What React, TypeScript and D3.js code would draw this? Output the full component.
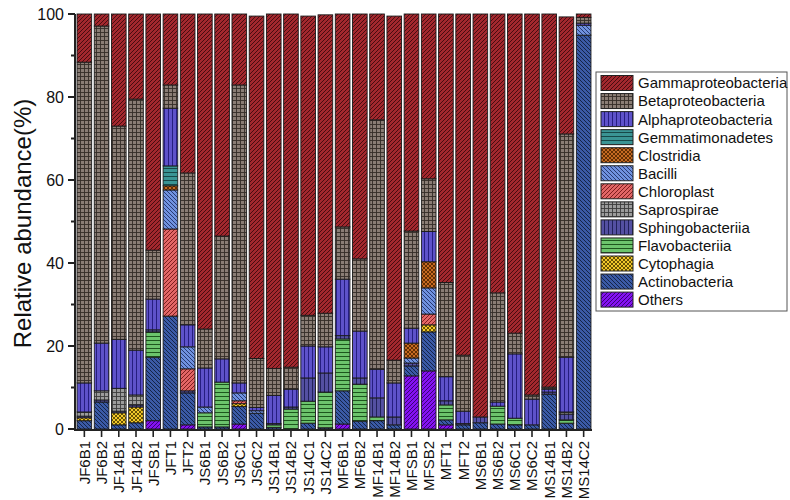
import React from "react";
import * as d3 from "d3";

const samples = ["JF6B1","JF6B2","JF14B1","JF14B2","JFSB1","JFT1","JFT2","JS6B1","JS6B2","JS6C1","JS6C2","JS14B1","JS14B2","JS14C1","JS14C2","MF6B1","MF6B2","MF14B1","MF14B2","MFSB1","MFSB2","MFT1","MFT2","MS6B1","MS6B2","MS6C1","MS6C2","MS14B1","MS14B2","MS14C2"];

const others      = [0,0,0,0,2,0,1,0,0,1.2,0,0,0,0,0,1.2,0,0,0,12.8,14,1,0,0,0,0,0,0,0,0];
const actino      = [2,6.5,1,1.5,15.3,27.2,7.7,0.5,0.5,4.2,3.8,0.4,0,1.4,0.3,8,1.9,2,1,2.4,9.4,1.2,1,1.5,1.2,1,1,8.4,1.4,94.9];
const cytophagia  = [0.7,0,2.9,3.8,0,0,0,0,0,0.7,0,0,0,0,0,0,0,0,0,0,1.7,0,0,0,0,0,0,0,0,0];
const flavo       = [0,0,0,0,6.1,0,0,3.4,10.8,0,0,0.6,4.8,5.3,8.6,12.5,8.9,0.9,0,0,0,3.6,0,0,4.3,1.6,0,0,0.8,0];
const sphingo     = [0.4,0.5,0.4,0.5,0.5,0,0.5,0,0,0,0,0.3,0.5,5.6,4.6,0.8,1.5,4.6,1.9,0.7,0,1,0.3,1.4,0,0,0,0.5,1.4,0];
const saprospirae = [1,2.2,5.5,2.4,0,0,0,0,0,0,0,0,0,0,0,0,0,0,0,0,0,0,0,0,0,0,0,0,0.5,0];
const chloroplast = [0,0,0,0,0,21,5.3,0,0,0.7,0,0,0,0,0,0,0,0,0,0,2.6,0,0,0,0,0,0,0,0,0];
const bacilli     = [0,0,0,0,0,9.4,5.3,1.4,0,1.9,0.6,0,0,0,0,0,0,0,0,1.2,6.3,0,0,0,0,0,0,0,0,2.4];
const clostridia  = [0,0,0,0,0,1,0,0,0,0,0,0,0,0,0,0,0,0,0,3.6,6.3,0,0,0,0,0,0,0,0,0];
const gemma       = [0,0,0,0,0,4.8,0,0,0,0,0,0,0,0,0,0,0,0,0,0,0,0,0,0,0,0,0,0,0,0];
const alpha       = [7,11.5,11.8,10.8,7.4,13.9,5.3,9.4,5.6,2.4,0.8,6.8,4.3,7.7,6.3,13.6,11.3,6.9,8.2,3.6,7.3,5.8,3,0,1,15.5,6.2,0.7,13.2,0.5];
const beta        = [77.3,76.4,51.4,60.5,11.8,5.6,36.6,9.4,29.6,71.8,11.8,6.5,5.3,7.4,8.1,12.6,17.4,60.1,5.5,23.4,12.7,22.7,13.5,0,26.3,5,1,0.5,53.8,1.4];
const gamma       = [11.6,2.9,27,20.5,56.9,17.1,38.3,75.9,53.5,17.1,82.5,85.4,85.1,72.1,71.9,51.3,59,25.5,82.9,52.3,39.7,64.7,82.2,97.1,67.2,76.9,91.8,89.9,28.2,0.8];

const yTicks = [0, 20, 40, 60, 80, 100];

// bottom -> top stacking order
const taxa = [
  { key: "Others", values: others, fill: "#8412f2", ink: "#3c0078", pat: "fwd" },
  { key: "Actinobacteria", values: actino, fill: "#3b5aa6", ink: "#142448", pat: "back" },
  { key: "Cytophagia", values: cytophagia, fill: "#f2c92a", ink: "#5a4600", pat: "cross" },
  { key: "Flavobacteriia", values: flavo, fill: "#6cc46c", ink: "#1d561d", pat: "horiz" },
  { key: "Sphingobacteriia", values: sphingo, fill: "#5450a2", ink: "#22225a", pat: "vert" },
  { key: "Saprospirae", values: saprospirae, fill: "#9c9c9c", ink: "#3c3c3c", pat: "grid" },
  { key: "Chloroplast", values: chloroplast, fill: "#e26666", ink: "#7e1e1e", pat: "fwd" },
  { key: "Bacilli", values: bacilli, fill: "#7092e0", ink: "#283a72", pat: "back" },
  { key: "Clostridia", values: clostridia, fill: "#c66a22", ink: "#582800", pat: "cross" },
  { key: "Gemmatimonadetes", values: gemma, fill: "#3a9494", ink: "#174848", pat: "horiz" },
  { key: "Alphaproteobacteria", values: alpha, fill: "#5e52ca", ink: "#261e80", pat: "vert" },
  { key: "Betaproteobacteria", values: beta, fill: "#8a7d75", ink: "#342c27", pat: "grid" },
  { key: "Gammaproteobacteria", values: gamma, fill: "#a3282e", ink: "#480c10", pat: "fwd" },
];

const W = 790, H = 500;
const m = { left: 76, right: 592, top: 14, bottom: 429 };

function Pattern({ id, fill, ink, pat }: { id: string; fill: string; ink: string; pat: string }) {
  const s = 4;
  let content: React.ReactNode = null;
  if (pat === "fwd") {
    content = <path d={`M0,${s} L${s},0 M-1,1 L1,-1 M${s - 1},${s + 1} L${s + 1},${s - 1}`} stroke={ink} strokeWidth={1} />;
  } else if (pat === "back") {
    content = <path d={`M0,0 L${s},${s} M-1,${s - 1} L1,${s + 1} M${s - 1},-1 L${s + 1},1`} stroke={ink} strokeWidth={1} />;
  } else if (pat === "vert") {
    content = <path d={`M0.5,0 L0.5,${s}`} stroke={ink} strokeWidth={1} />;
  } else if (pat === "horiz") {
    content = <path d={`M0,0.5 L${s},0.5`} stroke={ink} strokeWidth={1} />;
  } else if (pat === "grid") {
    content = <path d={`M0.5,0 L0.5,${s} M0,0.5 L${s},0.5`} stroke={ink} strokeWidth={0.9} />;
  } else if (pat === "cross") {
    content = <path d={`M0,0 L${s},${s} M0,${s} L${s},0`} stroke={ink} strokeWidth={0.9} />;
  }
  return (
    <pattern id={id} patternUnits="userSpaceOnUse" width={s} height={s}>
      <rect width={s} height={s} fill={fill} />
      {content}
    </pattern>
  );
}

export default function App() {
  const x = d3.scaleBand<string>().domain(samples).range([m.left, m.right]).paddingInner(0.15).paddingOuter(0.06);
  const y = d3.scaleLinear().domain([0, 100]).range([m.bottom, m.top]);

  const rows = samples.map((s, i) => {
    const r: Record<string, any> = { sample: s };
    taxa.forEach((t) => (r[t.key] = t.values[i]));
    return r;
  });
  const stack = d3.stack<any>().keys(taxa.map((t) => t.key))(rows);

  const minorTicks = d3.range(10, 100, 20);
  const font = "'Liberation Sans', Arial, sans-serif";

  return (
    <div style={{ position: "absolute", left: 0, top: 0 }}>
      <svg width={W} height={H} style={{ display: "block", background: "#fff", fontFamily: font }}>
        <defs>
          {taxa.map((t, i) => (
            <Pattern key={t.key} id={`p${i}`} fill={t.fill} ink={t.ink} pat={t.pat} />
          ))}
        </defs>

        {stack.map((layer, li) => (
          <g key={layer.key}>
            {layer.map((d, i) => {
              const h = y(d[0]) - y(d[1]);
              if (h <= 0) return null;
              return (
                <rect
                  key={i}
                  x={x(samples[i])}
                  y={y(d[1])}
                  width={x.bandwidth()}
                  height={h}
                  fill={`url(#p${li})`}
                  stroke="#1a1a1a"
                  strokeWidth={0.9}
                />
              );
            })}
          </g>
        ))}

        {/* y axis */}
        <line x1={m.left - 1} x2={m.left - 1} y1={m.top} y2={m.bottom + 1} stroke="#222" strokeWidth={2} />
        {yTicks.map((t) => (
          <g key={t}>
            <line x1={m.left - 8} x2={m.left - 1} y1={y(t)} y2={y(t)} stroke="#222" strokeWidth={2} />
            <text x={m.left - 12} y={y(t)} dy="0.36em" textAnchor="end" fontSize={16} fill="#111">
              {t}
            </text>
          </g>
        ))}
        {minorTicks.map((t) => (
          <line key={t} x1={m.left - 5} x2={m.left - 1} y1={y(t)} y2={y(t)} stroke="#222" strokeWidth={2} />
        ))}
        <text
          transform={`translate(31,${(m.top + m.bottom) / 2 + 2}) rotate(-90)`}
          textAnchor="middle"
          fontSize={24}
          fill="#111"
        >
          Relative abundance(%)
        </text>

        {/* x axis */}
        <line x1={m.left - 2} x2={m.right} y1={m.bottom + 1} y2={m.bottom + 1} stroke="#222" strokeWidth={2} />
        {samples.map((s) => {
          const cx = (x(s) as number) + x.bandwidth() / 2;
          return (
            <g key={s}>
              <line x1={cx} x2={cx} y1={m.bottom + 1} y2={m.bottom + 8} stroke="#222" strokeWidth={1.6} />
              <text
                transform={`translate(${cx + 5.5},${m.bottom + 12}) rotate(-90)`}
                textAnchor="end"
                fontSize={15}
                fill="#111"
              >
                {s}
              </text>
            </g>
          );
        })}

        {/* legend */}
        <rect x={596} y={72} width={191} height={239} fill="#fff" stroke="#555" strokeWidth={1} />
        {taxa
          .slice()
          .reverse()
          .map((t, i) => {
            const idx = taxa.length - 1 - i;
            const cy = 83 + i * 18.05;
            return (
              <g key={t.key}>
                <rect x={601} y={cy - 7.5} width={32} height={15} fill={`url(#p${idx})`} stroke="#222" strokeWidth={1} />
                <text x={638} y={cy} dy="0.36em" fontSize={15} fill="#111">
                  {t.key}
                </text>
              </g>
            );
          })}
      </svg>
    </div>
  );
}
